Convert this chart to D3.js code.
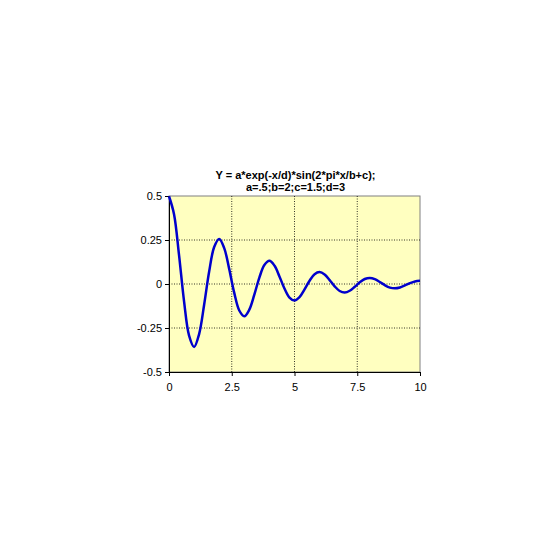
<!DOCTYPE html>
<html>
<head>
<meta charset="utf-8">
<script src="https://cdn.jsdelivr.net/npm/d3@7"></script>
<style>
  body { margin: 0; background: #fff; }
  text { font-family: Arial, "Liberation Sans", sans-serif; fill: #000; }
</style>
</head>
<body>
<script>
// values
const xValues = [0, 0.2, 0.4, 0.6, 0.8, 1, 1.2, 1.4, 1.6, 1.8, 2, 2.2, 2.4, 2.6, 2.8, 3, 3.2, 3.4, 3.6, 3.8,
  4, 4.2, 4.4, 4.6, 4.8, 5, 5.2, 5.4, 5.6, 5.8, 6, 6.2, 6.4, 6.6, 6.8, 7, 7.2, 7.4, 7.6, 7.8,
  8, 8.2, 8.4, 8.6, 8.8, 9, 9.2, 9.4, 9.6, 9.8, 10];
const yValues = [0.4987, 0.3969, 0.1643, -0.0986, -0.2931, -0.3574, -0.2844, -0.1177, 0.0707, 0.2101,
  0.2561, 0.2038, 0.0844, -0.0506, -0.1505, -0.1835, -0.1460, -0.0605, 0.0363, 0.1079,
  0.1315, 0.1046, 0.0433, -0.0260, -0.0773, -0.0942, -0.0750, -0.0310, 0.0186, 0.0554,
  0.0675, 0.0537, 0.0222, -0.0133, -0.0397, -0.0484, -0.0385, -0.0159, 0.0096, 0.0284,
  0.0347, 0.0276, 0.0114, -0.0069, -0.0204, -0.0248, -0.0198, -0.0082, 0.0049, 0.0146, 0.0178];
const xTicks = [0, 2.5, 5, 7.5, 10];
const yTicks = [-0.5, -0.25, 0, 0.25, 0.5];
const titleLines = ['Y = a*exp(-x/d)*sin(2*pi*x/b+c);', 'a=.5;b=2;c=1.5;d=3'];

const width = 560, height = 560;
const plot = { left: 169, top: 196, right: 420, bottom: 372 };

const svg = d3.select('body').append('svg')
  .attr('width', width)
  .attr('height', height);

const x = d3.scaleLinear().domain([0, 10]).range([plot.left, plot.right]);
const y = d3.scaleLinear().domain([-0.5, 0.5]).range([plot.bottom, plot.top]);

// plot area background
svg.append('rect')
  .attr('x', plot.left).attr('y', plot.top)
  .attr('width', plot.right - plot.left).attr('height', plot.bottom - plot.top)
  .attr('fill', '#ffffc0')
  .attr('stroke', '#808080')
  .attr('stroke-width', 1);

// gridlines
svg.append('g').selectAll('line')
  .data(xTicks.filter(d => d > 0 && d < 10))
  .join('line')
  .attr('x1', d => x(d)).attr('x2', d => x(d))
  .attr('y1', plot.top).attr('y2', plot.bottom)
  .attr('stroke', '#000').attr('stroke-width', 0.8).attr('stroke-dasharray', '1,1.5');

svg.append('g').selectAll('line')
  .data(yTicks.filter(d => d > -0.5 && d < 0.5))
  .join('line')
  .attr('y1', d => y(d)).attr('y2', d => y(d))
  .attr('x1', plot.left).attr('x2', plot.right)
  .attr('stroke', '#000').attr('stroke-width', 0.8).attr('stroke-dasharray', '1,1.5');

// axes (plain hyphen for negatives, like the original)
const fmt = d => String(d);
const xAxis = svg.append('g')
  .attr('transform', `translate(0,${plot.bottom})`)
  .call(d3.axisBottom(x).tickValues(xTicks).tickSize(4).tickSizeOuter(0).tickFormat(fmt));
const yAxis = svg.append('g')
  .attr('transform', `translate(${plot.left},0)`)
  .call(d3.axisLeft(y).tickValues(yTicks).tickSize(4).tickSizeOuter(0).tickFormat(fmt));

[xAxis, yAxis].forEach(g => {
  g.selectAll('text').style('font-size', '11px').attr('fill', '#000');
  g.select('.domain').attr('stroke', '#000');
  g.selectAll('.tick line').attr('stroke', '#000');
});
xAxis.selectAll('text').attr('dy', '1.05em');
yAxis.selectAll('text').attr('x', -7);

// curve
const line = d3.line()
  .x((d, i) => x(xValues[i]))
  .y(d => y(d))
  .curve(d3.curveCatmullRom.alpha(0.5));

svg.append('path')
  .datum(yValues)
  .attr('d', line)
  .attr('fill', 'none')
  .attr('stroke', '#0000cc')
  .attr('stroke-width', 2.5);

// title
svg.append('g').selectAll('text')
  .data(titleLines)
  .join('text')
  .attr('x', (plot.left + plot.right) / 2 + 1)
  .attr('y', (d, i) => 179 + i * 12)
  .attr('text-anchor', 'middle')
  .style('font-size', '11px')
  .style('font-weight', 'bold')
  .text(d => d);
</script>
</body>
</html>
